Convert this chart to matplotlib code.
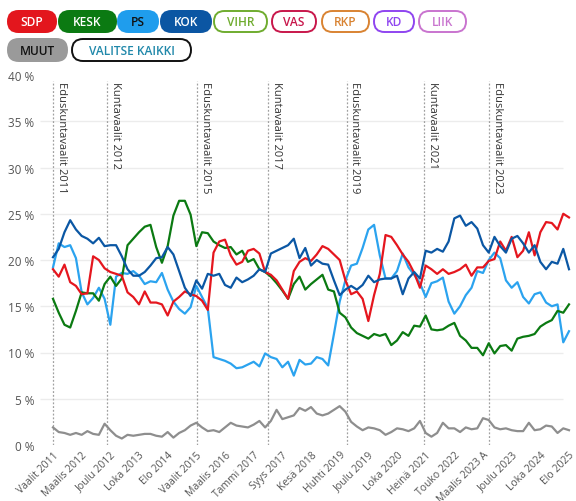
import numpy as np
import matplotlib
matplotlib.use("Agg")
import matplotlib.pyplot as plt
from matplotlib.patches import FancyBboxPatch

plt.rcParams['font.family'] = ['Open Sans', 'DejaVu Sans']

# ---------------- data ----------------
tick_labels = ["Vaalit 2011", "Maalis 2012", "Joulu 2012", "Loka 2013", "Elo 2014",
               "Vaalit 2015", "Maalis 2016", "Tammi 2017", "Syys 2017", "Kesä 2018",
               "Huhti 2019", "Joulu 2019", "Loka 2020", "Heinä 2021", "Touko 2022",
               "Maalis 2023 A", "Joulu 2023", "Loka 2024", "Elo 2025"]
tick_step = 10  # one label every 10 polls

elections = ["Eduskuntavaalit 2011", "Kuntavaalit 2012", "Eduskuntavaalit 2015",
             "Kuntavaalit 2017", "Eduskuntavaalit 2019", "Kuntavaalit 2021",
             "Eduskuntavaalit 2023"]
election_pos = [0, 19, 50.2, 75.1, 102.4, 129.4, 152.2]

poll_step = 2  # values below are every second poll

sdp = [19.0, 18.2, 19.5, 17.6, 17.2, 16.3, 16.4, 20.4, 20.0, 19.1,
       18.7, 18.5, 18.3, 16.5, 16.0, 15.2, 16.6, 15.4, 15.4, 15.2,
       14.0, 15.5, 16.0, 16.6, 16.3, 16.1, 15.6, 14.6, 20.8, 22.0,
       22.2, 20.5, 19.5, 19.8, 21.0, 21.2, 20.7, 18.7, 18.4, 17.8,
       16.8, 15.8, 18.8, 19.8, 20.2, 19.9, 20.6, 21.5, 21.2, 20.6,
       20.0, 17.8, 16.3, 16.6, 15.8, 13.4, 16.2, 18.5, 22.7, 22.5,
       21.6, 20.6, 19.8, 18.6, 17.0, 19.4, 19.0, 18.5, 19.0, 18.5,
       18.7, 19.0, 19.5, 18.3, 19.2, 19.2, 19.9, 20.1, 22.0, 21.0,
       22.5, 20.3, 21.0, 23.0, 20.5, 23.0, 24.1, 24.0, 23.3, 25.0,
       24.6]

kesk = [15.8, 14.3, 13.0, 12.7, 14.5, 16.5, 16.4, 16.4, 15.6, 17.4,
        18.2, 17.2, 18.0, 21.6, 22.3, 23.0, 23.6, 23.8, 21.4, 19.7,
        21.5, 24.8, 26.4, 26.4, 24.9, 21.5, 23.0, 22.9, 22.0, 21.6,
        21.3, 21.4, 20.6, 21.0, 19.8, 20.1, 19.0, 18.7, 18.2, 17.5,
        16.7, 15.8, 17.4, 18.2, 16.8, 17.4, 17.9, 18.4, 16.8, 16.6,
        14.3, 13.8, 12.7, 12.1, 11.8, 11.5, 12.0, 11.8, 12.0, 10.8,
        11.3, 12.2, 11.8, 12.9, 12.8, 14.0, 12.5, 12.4, 12.5, 12.9,
        13.2, 11.8, 11.3, 10.5, 10.5, 9.7, 11.0, 9.9, 10.7, 10.8,
        10.2, 11.5, 11.7, 11.8, 12.0, 12.8, 13.2, 13.5, 14.5, 14.3,
        15.2]

ps = [19.2, 21.8, 21.4, 21.6, 20.2, 16.5, 15.2, 15.9, 17.0, 15.8,
      13.0, 18.2, 18.6, 18.5, 18.8, 18.3, 17.4, 17.7, 17.6, 18.6,
      16.8, 15.5, 14.7, 14.2, 14.9, 17.2, 16.0, 14.8, 9.5, 9.3,
      9.1, 8.8, 8.3, 8.4, 8.7, 9.0, 8.5, 9.9, 9.5, 9.3,
      8.4, 9.0, 7.5, 9.2, 8.7, 8.8, 9.5, 9.3, 8.6, 12.0,
      15.5, 17.8, 19.4, 19.6, 21.3, 23.3, 23.8, 20.5, 18.0, 18.0,
      18.8, 20.7, 19.2, 18.4, 17.5, 16.0, 17.5, 17.7, 18.1, 15.5,
      14.2, 15.0, 16.2, 17.0, 18.8, 18.6, 20.0, 20.8, 20.2, 17.8,
      17.0, 17.6, 16.0, 15.3, 16.3, 16.5, 15.4, 15.0, 15.2, 11.1,
      12.3]

kok = [20.3, 21.2, 23.0, 24.3, 23.3, 22.6, 22.3, 21.8, 22.4, 21.5,
       21.6, 21.6, 20.4, 19.0, 18.3, 18.3, 18.7, 19.4, 20.2, 20.3,
       21.4, 20.6, 18.8, 17.0, 16.1, 17.8, 16.9, 18.5, 18.3, 18.5,
       17.3, 17.0, 18.1, 17.6, 17.9, 18.3, 19.0, 18.7, 20.7, 21.0,
       21.3, 21.6, 22.3, 20.2, 21.3, 19.4, 20.0, 19.6, 19.5, 17.8,
       16.2, 16.8, 17.2, 16.8, 17.3, 18.3, 17.6, 17.9, 18.0, 18.0,
       18.3, 16.3, 18.0, 18.7, 18.0, 21.0, 20.8, 21.2, 20.9, 22.0,
       24.5, 24.8, 23.7, 24.1, 23.4, 21.6, 20.8, 22.5, 21.5, 20.8,
       22.3, 22.6, 21.8, 20.8, 21.6, 19.8, 19.0, 19.8, 19.6, 21.2,
       19.0]

muut = [1.9, 1.4, 1.3, 1.1, 1.3, 1.1, 1.5, 1.2, 1.1, 2.3,
        1.6, 1.0, 0.7, 1.1, 1.0, 1.1, 1.2, 1.2, 1.0, 0.9,
        1.4, 0.8, 1.3, 1.6, 2.1, 2.4, 1.9, 1.5, 1.6, 1.4,
        1.9, 2.4, 2.1, 2.0, 1.9, 2.2, 2.6, 1.9, 2.6, 3.8,
        2.8, 3.0, 3.2, 4.0, 3.7, 4.1, 3.4, 3.2, 3.4, 3.8,
        4.2, 3.6, 2.5, 2.0, 1.6, 1.9, 1.8, 1.6, 1.1, 1.4,
        1.8, 1.7, 1.5, 1.8, 2.6, 1.3, 0.9, 1.3, 2.4, 1.8,
        1.8, 1.4, 1.9, 1.7, 1.8, 2.9, 2.7, 1.9, 1.7, 1.8,
        1.6, 1.5, 1.5, 2.4, 1.6, 1.7, 2.1, 2.0, 1.3, 1.8,
        1.6]

series = [("MUUT", muut, "#8e8e8e"),
          ("PS", ps, "#2ba3ef"),
          ("KESK", kesk, "#0b7a12"),
          ("SDP", sdp, "#e5161e"),
          ("KOK", kok, "#0b57a4")]

legend_items = [
    ("SDP", "fill", "#e3161d", "white"),
    ("KESK", "fill", "#0b7a12", "white"),
    ("PS", "fill", "#1f9ded", "#111111"),
    ("KOK", "fill", "#0b56a3", "white"),
    ("VIHR", "outline", "#6fac2f", "#6fac2f"),
    ("VAS", "outline", "#c8174b", "#c8174b"),
    ("RKP", "outline", "#d98332", "#d98332"),
    ("KD", "outline", "#8f45f0", "#8f45f0"),
    ("LIIK", "outline", "#c974cf", "#c974cf"),
    ("MUUT", "fill", "#9a9a9a", "#111111"),
    ("VALITSE KAIKKI", "outline", "#111111", "#2088aa"),
]

# ---------------- figure ----------------
W, H = 576, 502
fig = plt.figure(figsize=(W / 100, H / 100), dpi=100)

left_px, right_px, top_px, bot_px = 40, 575, 76, 446
ax = fig.add_axes([left_px / W, 1 - bot_px / H, (right_px - left_px) / W, (bot_px - top_px) / H])

n_idx = (len(tick_labels) - 1) * tick_step
px_per_idx = (569 - 53) / n_idx
x0 = -(53 - left_px) / px_per_idx
x1 = x0 + (right_px - left_px) / px_per_idx
ax.set_xlim(x0, x1)
ax.set_ylim(0, 40)

for s in ax.spines.values():
    s.set_visible(False)

# grid
grid_end = x0 + (563 - left_px) / px_per_idx
ax.hlines(np.arange(5, 40, 5), x0, grid_end, color="#ececec", lw=1, zorder=0)

# election lines & labels
for name, pos in zip(elections, election_pos):
    ax.vlines(pos, 0, 39.4, color="#a0a0a0", lw=0.9, linestyles=(0, (1.5, 1.5)), zorder=1)
    ax.text(pos + 1.0, 39.3, name, rotation=270, ha="left", va="top",
            fontsize=8.0, color="#333333", zorder=2)

for name, vals, col in series:
    xs = np.arange(len(vals)) * poll_step
    ax.plot(xs, vals, color=col, lw=1.6, solid_joinstyle="round", zorder=3)

ax.set_yticks(np.arange(0, 41, 5))
ax.set_yticklabels([f"{v} %" for v in range(0, 41, 5)], fontsize=8.5, color="#555555")
ax.set_xticks(np.arange(len(tick_labels)) * tick_step)
ax.set_xticklabels(tick_labels, rotation=45, ha="right", rotation_mode="anchor",
                   fontsize=7.5, color="#555555")
ax.tick_params(axis="both", length=0)
ax.tick_params(axis="y", pad=4)
ax.tick_params(axis="x", pad=3)

# ---------------- legend buttons ----------------
ov = fig.add_axes([0, 0, 1, 1])
ov.set_xlim(0, W)
ov.set_ylim(H, 0)
ov.axis("off")

boxes = [(7, 57, 11, 34), (58, 117, 11, 34), (117, 159, 11, 34), (160, 212, 11, 34),
         (213, 268, 11, 34), (271, 317, 11, 34), (321, 370, 11, 34), (373, 415, 11, 34),
         (418, 467, 11, 34), (7, 68, 39, 63), (71, 192, 39, 63)]
for (label, style, col, tcol), (bx0, bx1, by0, by1) in zip(legend_items, boxes):
    h = by1 - by0
    if style == "fill":
        p = FancyBboxPatch((bx0, by0), bx1 - bx0, h,
                           boxstyle=f"round,pad=0,rounding_size={h/2}",
                           fc=col, ec=col, lw=0)
    else:
        p = FancyBboxPatch((bx0 + 1, by0 + 1), bx1 - bx0 - 2, h - 2,
                           boxstyle=f"round,pad=0,rounding_size={(h-2)/2}",
                           fc="white", ec=col, lw=1.4)
    ov.add_patch(p)
    ov.text((bx0 + bx1) / 2, (by0 + by1) / 2 + 0.5, label, ha="center", va="center",
            fontsize=8.6, color=tcol, fontweight="semibold")

fig.savefig("out.png", dpi=100)
